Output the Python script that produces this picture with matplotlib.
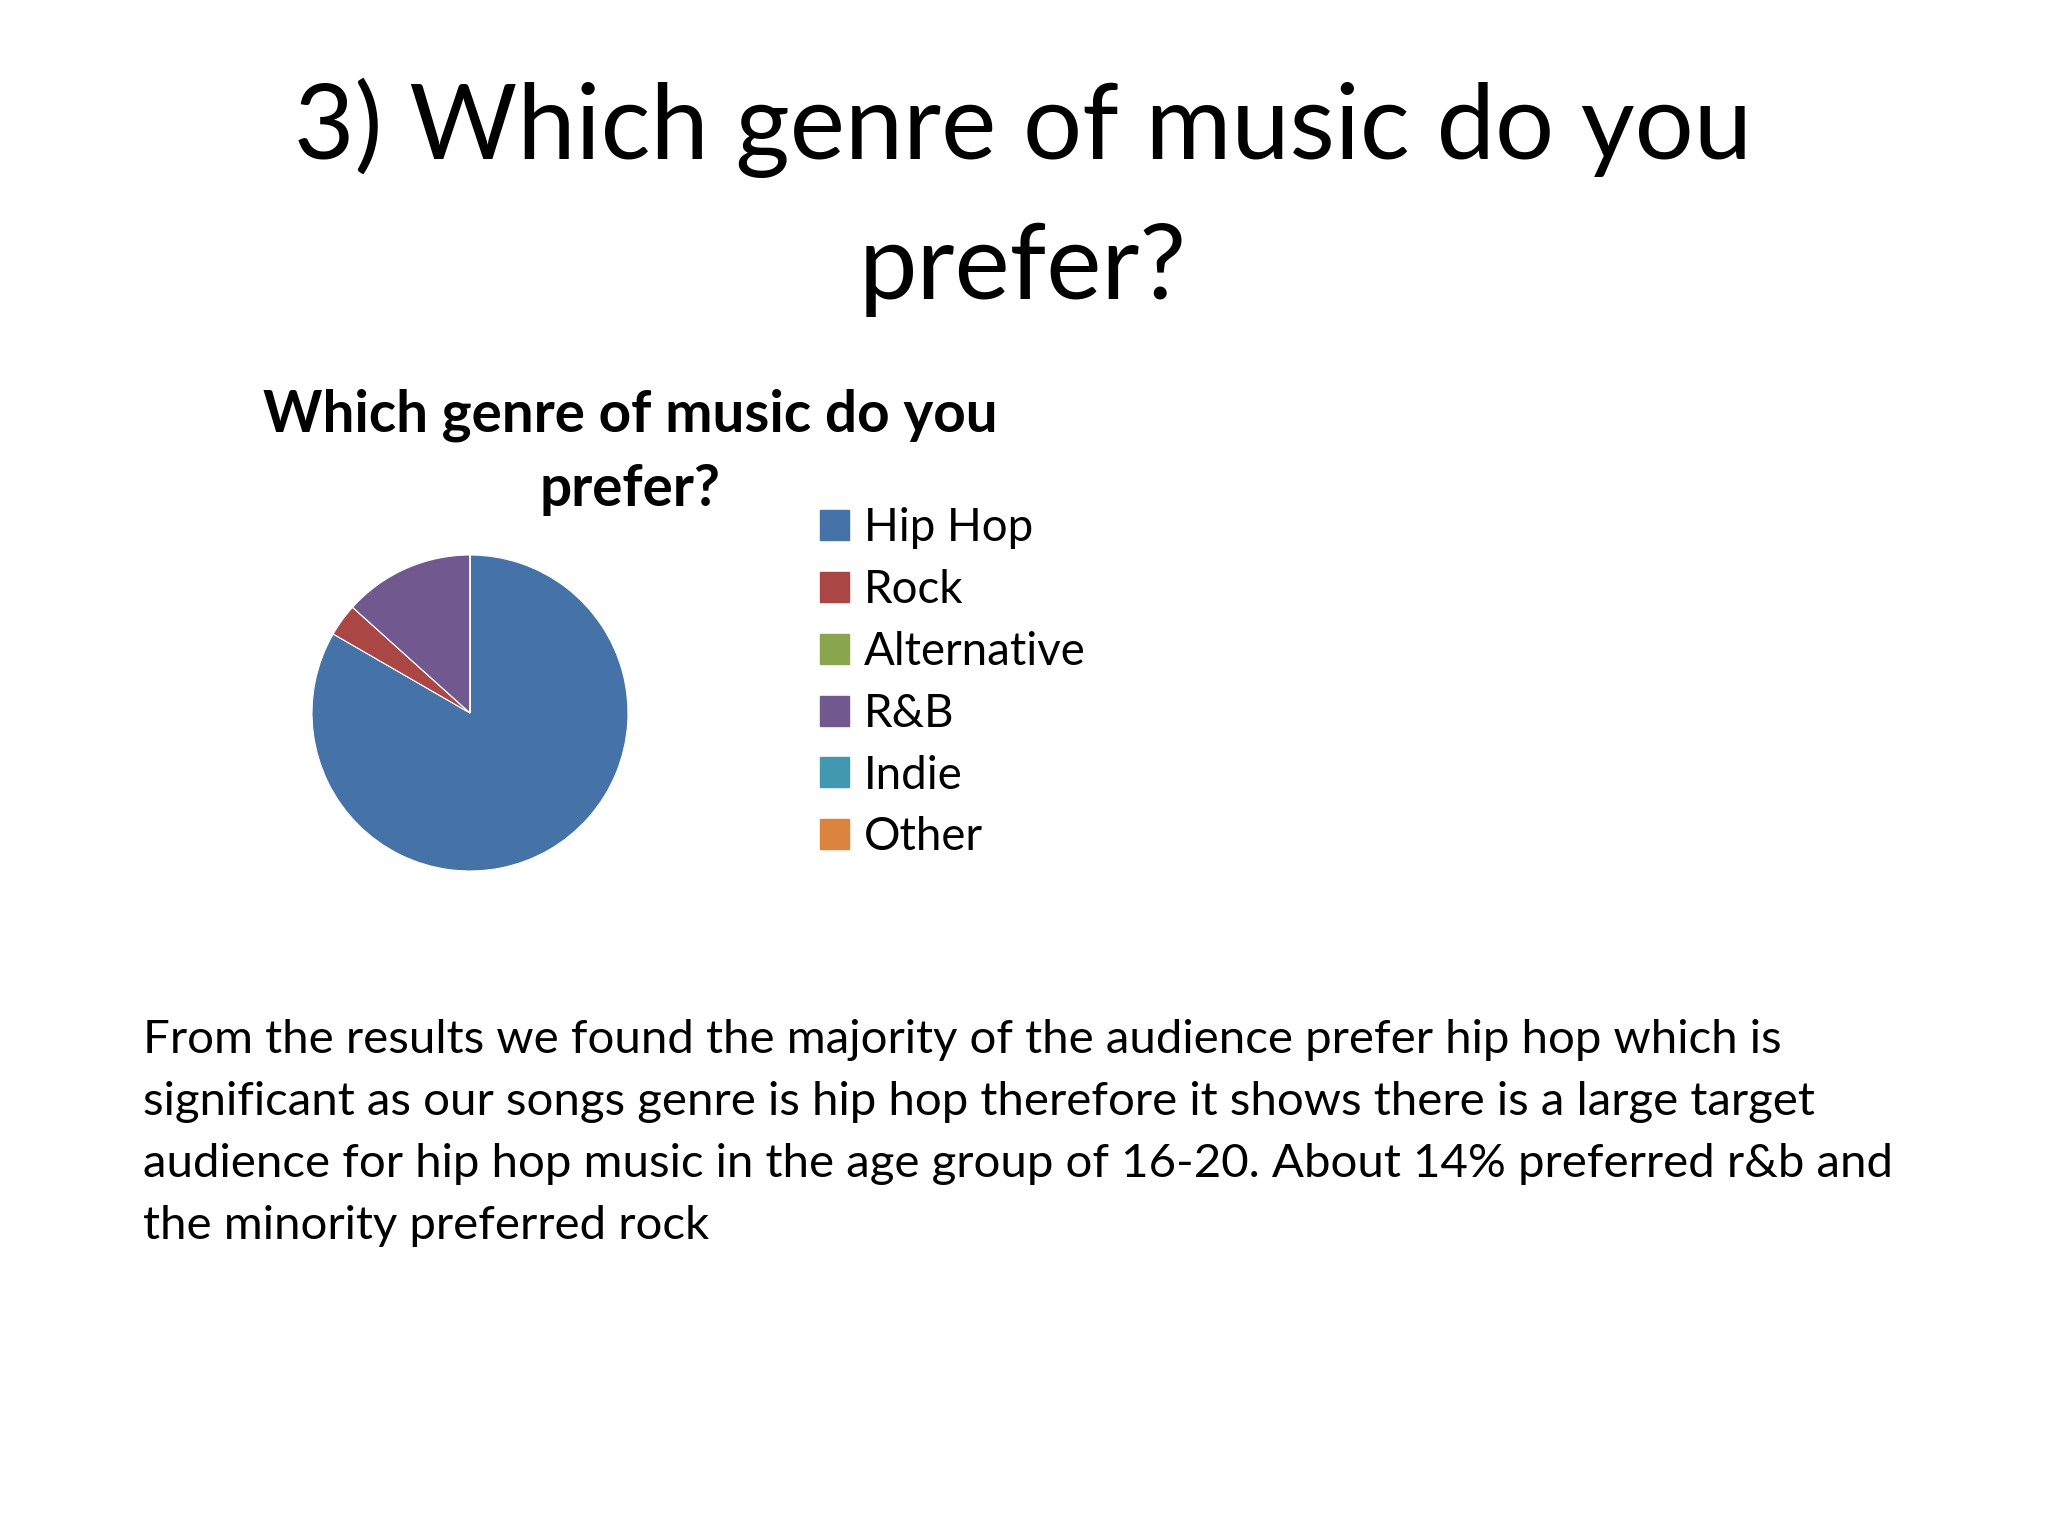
import matplotlib
matplotlib.use("Agg")
import matplotlib.pyplot as plt
from matplotlib.patches import Patch

# ---- data ----
genres = ["Hip Hop", "Rock", "Alternative", "R&B", "Indie", "Other"]
responses = [25, 1, 0, 4, 0, 0]
colors = ["#4572A7", "#AA4643", "#89A54E", "#71588F", "#4198AF", "#DB843D"]

slide_title = ["3) Which genre of music do you", "prefer?"]
chart_title = ["Which genre of music do you", "prefer?"]
body_lines = [
    "From the results we found the majority of the audience prefer hip hop which is",
    "significant as our songs genre is hip hop therefore it shows there is a large target",
    "audience for hip hop music in the age group of 16-20. About 14% preferred r&b and",
    "the minority preferred rock",
]

FONT = "Lato"
W, H = 2048, 1536
fig = plt.figure(figsize=(W / 100, H / 100), dpi=100)
fig.patch.set_facecolor("white")
renderer = fig.canvas.get_renderer()


def fit_size(text, target_px, weight="normal"):
    t = fig.text(0, 0, text, fontsize=50, family=FONT, weight=weight)
    w = t.get_window_extent(renderer).width
    t.remove()
    return 50 * target_px / w


def px(x, y):
    return x / W, 1 - y / H


# slide title
ts = fit_size(slide_title[0], 1457)
for line, base in zip(slide_title, [159, 299]):
    fig.text(*px(1023, base), line, fontsize=ts, family=FONT, ha="center",
             va="baseline", color="black")

# chart title
cs = fit_size(chart_title[0], 736, weight="bold")
for line, base in zip(chart_title, [431, 506]):
    fig.text(*px(630, base), line, fontsize=cs, family=FONT, weight="bold",
             ha="center", va="baseline", color="black")

# pie
cx, cy, r = 470, 713, 158
ax = fig.add_axes([(cx - r) / W, (H - cy - r) / H, 2 * r / W, 2 * r / H])
wedges, _ = ax.pie(responses, colors=colors, startangle=90, counterclock=False,
                   wedgeprops=dict(linewidth=0.8, edgecolor="white"))
ax.set_xlim(-1, 1)
ax.set_ylim(-1, 1)
ax.set_aspect("equal")
ax.axis("off")

# legend
ls = fit_size("Alternative", 222)
ls_px = ls * 100 / 72
handles = [Patch(facecolor=c, edgecolor=c) for c in colors]
leg = fig.legend(handles, genres, loc="upper left",
                 bbox_to_anchor=px(820, 507), frameon=False,
                 prop=dict(family=FONT, size=ls),
                 handlelength=29 / ls_px, handleheight=29 / ls_px,
                 handletextpad=15 / ls_px,
                 labelspacing=0.435, borderaxespad=0, borderpad=0)

# body
bs = fit_size(body_lines[0], 1637)
for i, line in enumerate(body_lines):
    fig.text(*px(143, 1053 + 62 * i), line, fontsize=bs, family=FONT,
             ha="left", va="baseline", color="black")

fig.savefig("out.png", dpi=100, facecolor="white")
